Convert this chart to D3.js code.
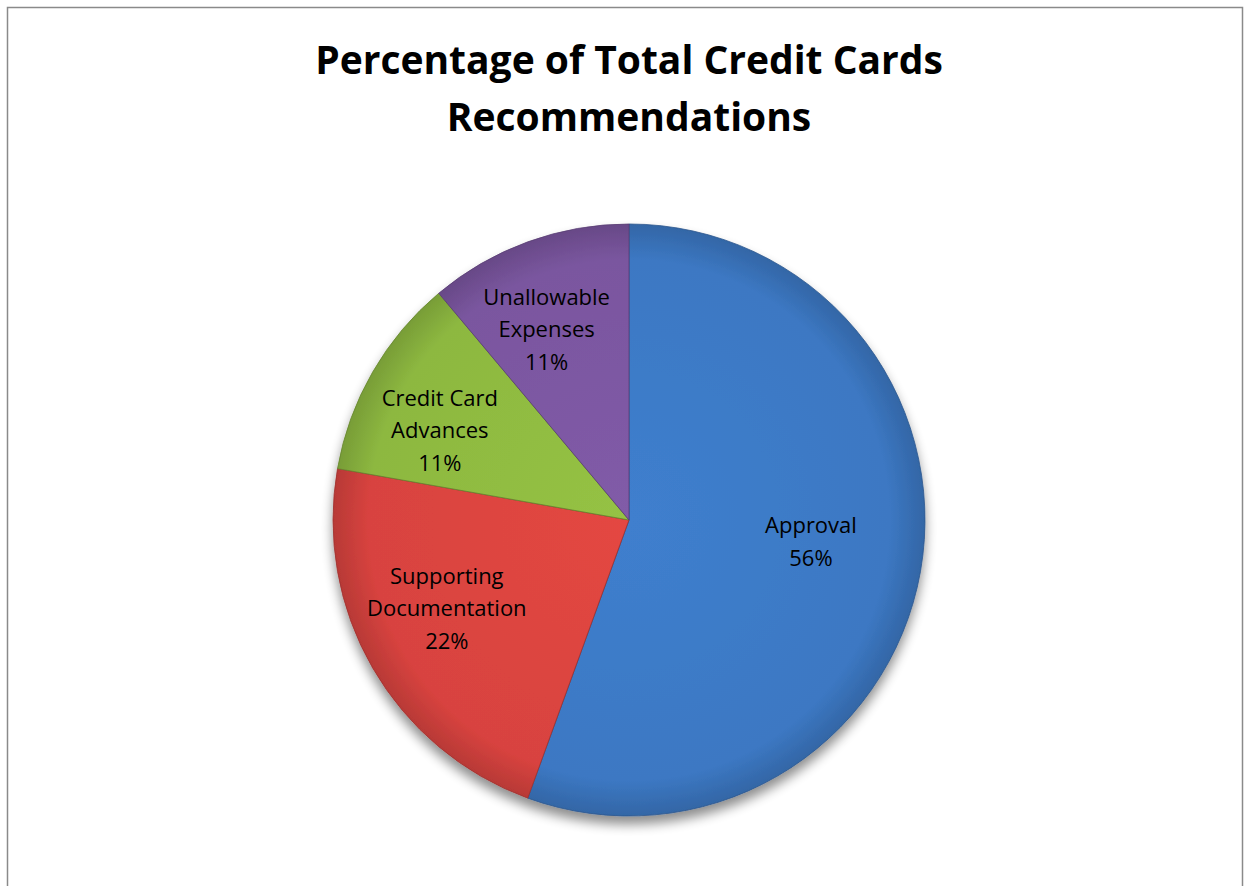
<!DOCTYPE html>
<html>
<head>
<meta charset="utf-8">
<script src="https://cdn.jsdelivr.net/npm/d3@7/dist/d3.min.js"></script>
<style>
  html, body { margin: 0; padding: 0; background: #fff; }
  svg { display: block; }
</style>
</head>
<body>
<svg id="chart" width="1250" height="886"></svg>
<script>
// Recommendation counts per category
const categories = ["Approval", "Supporting Documentation", "Credit Card Advances", "Unallowable Expenses"];
const labelLines = [["Approval"], ["Supporting", "Documentation"], ["Credit Card", "Advances"], ["Unallowable", "Expenses"]];
const counts = [5, 2, 1, 1];
const colors = ["#3C78C3", "#D8433F", "#8DB840", "#7A569F"];
const titleLines = ["Percentage of Total Credit Cards", "Recommendations"];

// Layout
const W = 1250, H = 886;
const cx = 629, cy = 520, R = 296;
const labelNudge = [[-15, -13], [-9, -12], [-16, 10], [-14, -3]];

const svg = d3.select("#chart");
const defs = svg.append("defs");

// Soft drop shadow under the pie
const shadow = defs.append("filter").attr("id", "shadow")
  .attr("x", "-20%").attr("y", "-20%").attr("width", "140%").attr("height", "140%");
shadow.append("feGaussianBlur").attr("in", "SourceAlpha").attr("stdDeviation", 6).attr("result", "b");
shadow.append("feOffset").attr("in", "b").attr("dy", 8).attr("result", "o");
shadow.append("feComponentTransfer").attr("in", "o").attr("result", "s")
  .append("feFuncA").attr("type", "linear").attr("slope", 0.45);
const merge = shadow.append("feMerge");
merge.append("feMergeNode").attr("in", "s");
merge.append("feMergeNode").attr("in", "SourceGraphic");

// Bevel-like shading for each slice, centred on the pie's origin
colors.forEach((c, i) => {
  const g = defs.append("radialGradient").attr("id", "grad" + i)
    .attr("gradientUnits", "userSpaceOnUse")
    .attr("cx", 0).attr("cy", 0).attr("r", R);
  const base = d3.color(c);
  g.append("stop").attr("offset", "0%").attr("stop-color", base.brighter(0.15));
  g.append("stop").attr("offset", "88%").attr("stop-color", base);
  g.append("stop").attr("offset", "100%").attr("stop-color", base.darker(0.45));
});

// Chart frame
svg.append("rect")
  .attr("x", 7.5).attr("y", 7.5).attr("width", W - 15).attr("height", H)
  .attr("fill", "#fff").attr("stroke", "#8a8a8a").attr("stroke-width", 1.5);

// Title
svg.append("text")
  .attr("x", cx).attr("y", 74)
  .attr("text-anchor", "middle")
  .attr("font-family", "'Open Sans', sans-serif")
  .attr("font-weight", "bold")
  .attr("font-size", 39)
  .attr("fill", "#000")
  .selectAll("tspan").data(titleLines).join("tspan")
  .attr("x", cx).attr("dy", (d, i) => i === 0 ? 0 : 57)
  .text(d => d);

const pie = d3.pie().sort(null).value(d => d)(counts);
const arc = d3.arc().innerRadius(0).outerRadius(R);
const labelArc = d3.arc().innerRadius(200).outerRadius(200);
const total = d3.sum(counts);

const g = svg.append("g").attr("transform", `translate(${cx},${cy})`);
const slices = g.append("g").attr("filter", "url(#shadow)");
slices.selectAll("path").data(pie).join("path")
  .attr("d", arc)
  .attr("fill", (d, i) => `url(#grad${i})`)
  .attr("stroke", (d, i) => d3.color(colors[i]).darker(0.9))
  .attr("stroke-width", 0.8);

// Data labels
const fmt = d3.format(".0%");
g.selectAll("text.lbl").data(pie).join("text")
  .attr("class", "lbl")
  .attr("font-family", "'Open Sans', sans-serif")
  .attr("font-size", 22)
  .attr("fill", "#000")
  .attr("text-anchor", "middle")
  .each(function(d, i) {
    const [x, y] = labelArc.centroid(d);
    const lines = labelLines[i].concat([fmt(d.value / total)]);
    const lh = 32.5;
    const x0 = x + labelNudge[i][0];
    const y0 = y + labelNudge[i][1] - (lines.length - 1) * lh / 2 + 8;
    d3.select(this).selectAll("tspan").data(lines).join("tspan")
      .attr("x", x0)
      .attr("y", (t, k) => y0 + k * lh)
      .text(t => t);
  });
</script>
</body>
</html>
